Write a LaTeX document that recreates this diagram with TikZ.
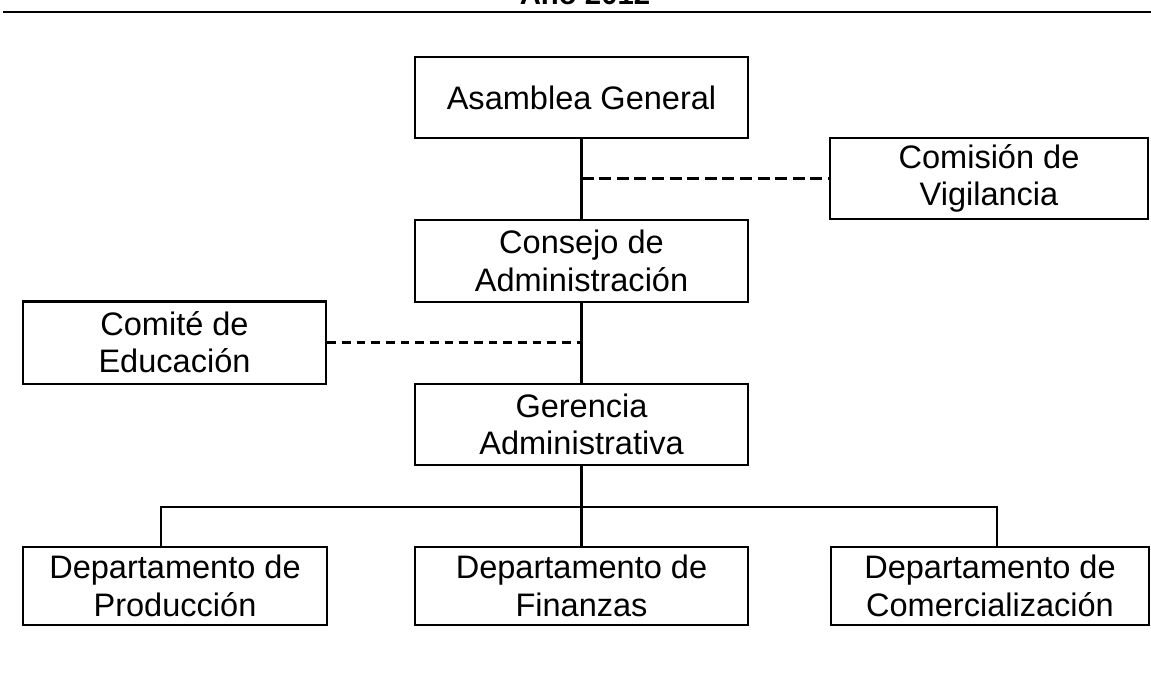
\documentclass[tikz,border=0pt]{standalone}
\usepackage{fontspec}
\setmainfont{Liberation Sans}

\tikzset{
  caja/.style={draw, line width=2pt, align=center, inner sep=0pt,
    font=\fontsize{24.4}{28}\selectfont, minimum height=60.75pt},
  linea/.style={line width=2pt},
  trazoLargo/.style={line width=1.8pt, dash pattern=on 9pt off 4.2pt},
  trazoCorto/.style={line width=1.6pt, dash pattern=on 6.5pt off 4.5pt}
}

\begin{document}
\begin{tikzpicture}[x=0.75pt, y=-0.75pt]
\clip (0,0) rectangle (1151,679);

% encabezado recortado
\node[anchor=base, inner sep=0pt, font=\bfseries\fontsize{22}{26}\selectfont] (tituloAnio) at (585,4) {Año 2012};
\draw[line width=1.75pt] (3,12) -- (1151,12);

% cajas
\node[caja, minimum width=249.75pt] (asambleaGeneral) at (581.5,97.5) {Asamblea General};
\node[caja, minimum width=238.5pt] (comisionVigilancia) at (989,178.5) {Comisión de\\Vigilancia};
\node[caja, minimum width=249.75pt, minimum height=61.5pt] (consejoAdmin) at (581.5,261) {Consejo de\\Administración};
\node[caja, minimum width=227.25pt, minimum height=62pt] (comiteEducacion) at (174.5,342.5) {Comité de\\Educación};
\node[caja, minimum width=249.75pt] (gerenciaAdmin) at (581.5,424.5) {Gerencia\\Administrativa};

\node[caja, minimum width=228pt, minimum height=58.5pt] (deptoProduccion) at (175,586) {Departamento de\\Producción};
\node[caja, minimum width=249.75pt, minimum height=58.5pt] (deptoFinanzas) at (581.5,586) {Departamento de\\Finanzas};
\node[caja, minimum width=238.5pt, minimum height=58.5pt] (deptoComercial) at (990,586) {Departamento de\\Comercialización};

% conectores
\draw[linea] (asambleaGeneral.south) -- (consejoAdmin.north);
\draw[linea] (consejoAdmin.south) -- (gerenciaAdmin.north);
\draw[trazoLargo] (asambleaGeneral.south |- comisionVigilancia.west) -- (comisionVigilancia.west);
\draw[trazoCorto] (comiteEducacion.east) -- (comiteEducacion.east -| consejoAdmin.south);

\coordinate (busIzq) at (161,507);
\coordinate (busDer) at (997,507);
\draw[linea] (gerenciaAdmin.south) -- (deptoFinanzas.north);
\draw[linea] (deptoProduccion.north -| busIzq) -- (busIzq) -- (busDer) -- (deptoComercial.north -| busDer);

\end{tikzpicture}
\end{document}
